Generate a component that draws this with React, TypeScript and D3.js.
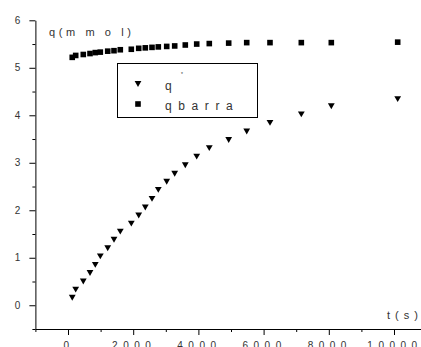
import React, { useEffect, useRef } from "react";
import * as d3 from "d3";

// time (s) of each measurement
const times = [130, 236, 469, 675, 837, 991, 1218, 1411, 1604, 1942, 2169, 2371, 2577, 2770, 3028, 3273, 3598, 3948, 4334, 4929, 5482, 6196, 7157, 8077, 10113];
// q* series (triangles)
const qStar = [0.18, 0.35, 0.52, 0.7, 0.87, 1.05, 1.22, 1.4, 1.57, 1.74, 1.91, 2.08, 2.26, 2.45, 2.62, 2.79, 2.97, 3.15, 3.33, 3.5, 3.68, 3.86, 4.04, 4.21, 4.36];
// q barra series (squares)
const qBarra = [5.22, 5.26, 5.28, 5.3, 5.32, 5.33, 5.35, 5.36, 5.38, 5.39, 5.41, 5.42, 5.43, 5.44, 5.45, 5.46, 5.48, 5.5, 5.51, 5.52, 5.53, 5.53, 5.53, 5.53, 5.54];

const xMajor = [0, 2000, 4000, 6000, 8000, 10000];
const xMinor = [-1000, 1000, 3000, 5000, 7000, 9000];
const yMajor = [0, 1, 2, 3, 4, 5, 6];
const yMinor = [-0.5, 0.5, 1.5, 2.5, 3.5, 4.5, 5.5];

const yTitle = "q(m m o l)";
const xTitle = "t(s)";
const legendLabels = ["q", "qbarra"];

const W = 421;
const H = 347;
const FONT = "'Liberation Sans', Arial, sans-serif";

export default function App() {
  const ref = useRef<SVGSVGElement>(null);

  useEffect(() => {
    const svg = d3.select(ref.current);
    svg.selectAll("*").remove();

    const x = d3.scaleLinear().domain([-1000, 11000]).range([35.4, 426.6]);
    const y = d3.scaleLinear().domain([-0.5, 6]).range([329, 20.3]);

    const tickLs = 5.5;

    // x axis
    const gx = svg.append("g").attr("transform", `translate(0,${y(-0.5)})`);
    gx.call(d3.axisBottom(x).tickValues(xMajor).tickSize(6).tickSizeOuter(0).tickPadding(7).tickFormat(d3.format("d")));
    gx.select(".domain").attr("stroke", "#000");
    gx.selectAll(".tick line").attr("stroke", "#000");
    gx.selectAll(".tick text")
      .attr("fill", "#333")
      .attr("font-family", FONT)
      .attr("font-size", 10)
      .attr("dx", 0.5)
      .style("letter-spacing", `${tickLs}px`);
    const gxm = svg.append("g").attr("transform", `translate(0,${y(-0.5)})`);
    gxm.call(d3.axisBottom(x).tickValues(xMinor).tickSize(3).tickSizeOuter(0).tickFormat(() => ""));
    gxm.select(".domain").remove();
    gxm.selectAll(".tick line").attr("stroke", "#000");

    // y axis
    const gy = svg.append("g").attr("transform", `translate(${x(-1000)},0)`);
    gy.call(d3.axisLeft(y).tickValues(yMajor).tickSize(6).tickSizeOuter(0).tickPadding(9).tickFormat(d3.format("d")));
    gy.select(".domain").attr("stroke", "#000");
    gy.selectAll(".tick line").attr("stroke", "#000");
    gy.selectAll(".tick text")
      .attr("fill", "#333")
      .attr("font-family", FONT)
      .attr("font-size", 10);
    const gym = svg.append("g").attr("transform", `translate(${x(-1000)},0)`);
    gym.call(d3.axisLeft(y).tickValues(yMinor).tickSize(3).tickSizeOuter(0).tickFormat(() => ""));
    gym.select(".domain").remove();
    gym.selectAll(".tick line").attr("stroke", "#000");

    const tri = d3.symbol(d3.symbolTriangle, 20)();
    const sq = 5.6;

    // q* triangles
    svg.append("g")
      .selectAll("path")
      .data(times.map((t, i) => [t, qStar[i]]))
      .join("path")
      .attr("d", tri)
      .attr("fill", "#000")
      .attr("transform", (d) => `translate(${x(d[0])},${y(d[1])}) rotate(180)`);

    // q barra squares
    svg.append("g")
      .selectAll("rect")
      .data(times.map((t, i) => [t, qBarra[i]]))
      .join("rect")
      .attr("x", (d) => x(d[0]) - sq / 2)
      .attr("y", (d) => y(d[1]) - sq / 2)
      .attr("width", sq)
      .attr("height", sq)
      .attr("fill", "#000");

    // axis titles
    svg.append("text")
      .attr("x", 49)
      .attr("y", 36)
      .attr("font-family", FONT)
      .attr("font-size", 11)
      .attr("fill", "#333")
      .style("letter-spacing", "3.6px")
      .text(yTitle);
    svg.append("text")
      .attr("x", 387)
      .attr("y", 319)
      .attr("font-family", FONT)
      .attr("font-size", 11)
      .attr("fill", "#333")
      .style("letter-spacing", "5px")
      .text(xTitle);

    // legend
    const lg = svg.append("g");
    lg.append("rect")
      .attr("x", 117.5).attr("y", 63.5)
      .attr("width", 140).attr("height", 54)
      .attr("fill", "#fff").attr("stroke", "#000");
    lg.append("path").attr("d", tri).attr("fill", "#000")
      .attr("transform", "translate(138,83) rotate(180)");
    lg.append("rect").attr("x", 138 - sq / 2).attr("y", 104 - sq / 2)
      .attr("width", sq).attr("height", sq).attr("fill", "#000");
    lg.append("text")
      .attr("x", 165).attr("y", 90)
      .attr("font-family", FONT).attr("font-size", 12).attr("fill", "#333")
      .text(legendLabels[0]);
    lg.append("text")
      .attr("x", 181).attr("y", 76)
      .attr("font-family", FONT).attr("font-size", 5).attr("fill", "#333")
      .text("*");
    lg.append("text")
      .attr("x", 165).attr("y", 110)
      .attr("font-family", FONT).attr("font-size", 12).attr("fill", "#333")
      .style("letter-spacing", "6.6px")
      .text(legendLabels[1]);
  }, []);

  return (
    <svg
      ref={ref}
      width={W}
      height={H}
      style={{ position: "absolute", left: 0, top: 0, background: "#fff", overflow: "hidden" }}
    />
  );
}
